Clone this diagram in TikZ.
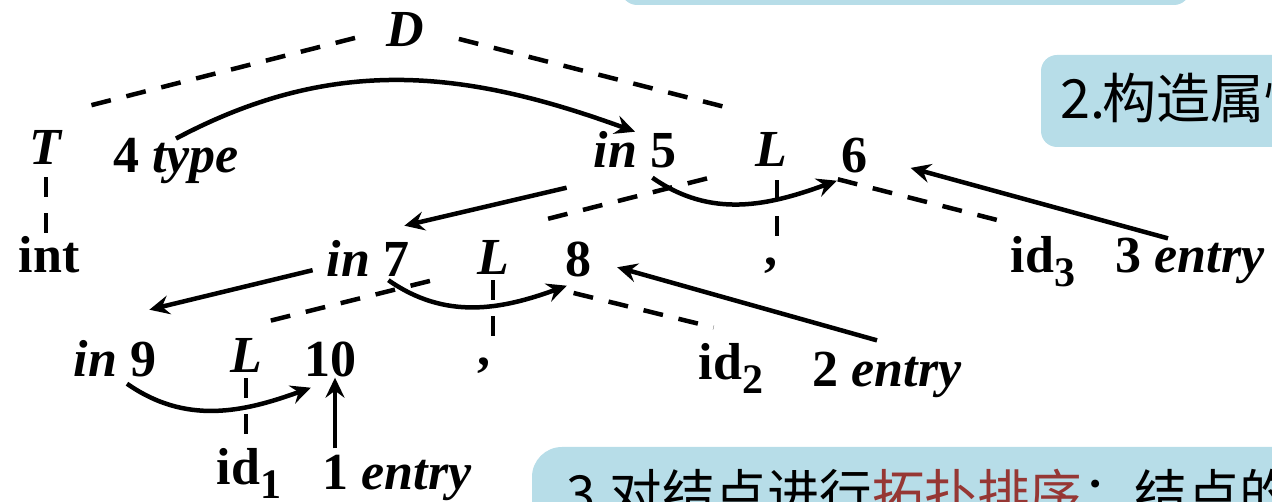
\documentclass[tikz,border=0pt]{standalone}
\usepackage{fontspec}
\setmainfont{Liberation Serif}
\newfontfamily\cjkfont{Noto Sans CJK SC}
\usetikzlibrary{arrows.meta}
\definecolor{boxblue}{HTML}{B7DDE8}
\definecolor{sortred}{HTML}{963734}
\newcommand{\tokid}[1]{id\raisebox{-14pt}{\fontsize{42}{42}\selectfont #1}}
\begin{document}
\begin{tikzpicture}[x=1pt,y=1pt,
    lbl/.style={font=\fontsize{52}{60}\selectfont\bfseries,inner sep=0pt,anchor=base},
    tree/.style={line width=4.5pt,dash pattern=on 20pt off 16pt},
    dep/.style={line width=4.5pt,-{Stealth[length=20pt,width=19pt,inset=7pt]}},
    box/.style={fill=boxblue,rounded corners=16pt},
    boxtext/.style={font=\cjkfont\fontsize{#1}{#1}\selectfont,inner sep=0pt,anchor=base west}]
  \useasboundingbox (0,0) rectangle (1272,502);
  \clip (0,0) rectangle (1272,502);
  % step boxes, cut by the frame
  \fill[box] (621,497) rectangle (1190,600);
  \fill[box] (1041,355) rectangle (1400,447);
  \fill[box,rounded corners=30pt] (532,-100) rectangle (1400,55);
  \node[boxtext=54] (step2) at (1060,383) {2.\kern-3pt构造属性};
  \node[boxtext=52.5] (step3) at (566,-12)
    {3.对结点进行\textcolor{sortred}{拓扑排序}：结点的};
  % parse tree
  \node[lbl] (D) at (405,455) {\textit{D}};
  \node[lbl] (T) at (46,337) {\textit{T}};
  \node[lbl] (int) at (49,229) {int};
  \node[lbl] (Ltop) at (771,335) {\textit{L}};
  \node[lbl] (comma1) at (771,236) {,};
  \node[lbl] (id3) at (1043,229) {\tokid{3}};
  \node[lbl] (Lmid) at (493,227) {\textit{L}};
  \node[lbl] (comma2) at (484,136) {,};
  \node[lbl] (id2) at (731,122) {\tokid{2}};
  \node[lbl] (Lbot) at (246,129) {\textit{L}};
  \node[lbl] (id1) at (249,17) {\tokid{1}};
  % attribute nodes
  \node[lbl] (type4) at (176,329) {4 \textit{type}};
  \node[lbl] (in5) at (635,334) {\textit{in} 5};
  \node[lbl] (n6) at (854,329) {6};
  \node[lbl] (entry3) at (1190,229) {3 \textit{entry}};
  \node[lbl] (in7) at (368,225) {\textit{in} 7};
  \node[lbl] (n8) at (578,225) {8};
  \node[lbl] (entry2) at (887,115) {2 \textit{entry}};
  \node[lbl] (in9) at (115,125) {\textit{in} 9};
  \node[lbl] (n10) at (330,125) {10};
  \node[lbl] (entry1) at (397,12) {1 \textit{entry}};
  % tree edges
  \draw[tree,shorten <=32pt,shorten >=35pt] (D.west) -- ([yshift=14pt]T.north);
  \draw[tree,shorten <=36pt,shorten >=35pt] (D.east) -- ([yshift=14pt]Ltop.north);
  \draw[tree,shorten <=12pt,shorten >=2pt] (T.south) -- (T.south |- int.north);
  \draw[tree,shorten <=13pt,shorten >=21pt] ([xshift=6pt]Ltop.south) -- ([xshift=6pt]comma1.north);
  \draw[tree,shorten <=66pt,shorten >=54pt] ([yshift=5pt]Ltop.south) -- ([yshift=8pt]Lmid.north);
  \draw[tree,shorten <=69pt,shorten >=47pt] ([yshift=5pt]Ltop.south) -- ([yshift=5pt]id3.north);
  \draw[tree,shorten <=5pt,shorten >=21pt] (Lmid.south) -- (Lmid.south |- comma2.north);
  \draw[tree,shorten <=65pt,shorten >=22pt] ([yshift=10pt]Lmid.south) -- ([yshift=12pt]Lbot.north);
  \draw[tree,shorten <=83pt,shorten >=18pt] ([yshift=2pt]Lmid.south) -- ([yshift=12pt]id2.north);
  \draw[tree,shorten <=5pt,shorten >=14pt] (Lbot.south) -- (Lbot.south |- id1.north);
  % dependency edges
  \draw[dep] (type4.north) to[out=28,in=160] (in5.north);
  \draw[dep] ([shift={(-27,-19)}]in5.south west) -- ([shift={(-5,15)}]in7.north east);
  \draw[dep] ([shift={(-24,-9)}]in5.south east) to[out=-35,in=200] ([shift={(-4,-7)}]n6.south west);
  \draw[dep,shorten >=45pt] ([xshift=-22pt]entry3.north) -- (n6.east);
  \draw[dep] ([shift={(-14,7)}]in7.south west) -- ([shift={(-7,31)}]in9.north east);
  \draw[dep] ([shift={(-21,-3)}]in7.south east) to[out=-35,in=200] ([shift={(2,-8)}]n8.south west);
  \draw[dep,shorten >=27pt] ([shift={(-10,12)}]entry2.north) -- (n8.east);
  \draw[dep] ([shift={(12,-6)}]in9.south) to[out=-35,in=200] ([shift={(7,-10)}]n10.south west);
  \draw[dep] ([xshift=5pt,yshift=7pt]n10.south |- entry1.north) -- ([xshift=5pt]n10.south);
\end{tikzpicture}
\end{document}
